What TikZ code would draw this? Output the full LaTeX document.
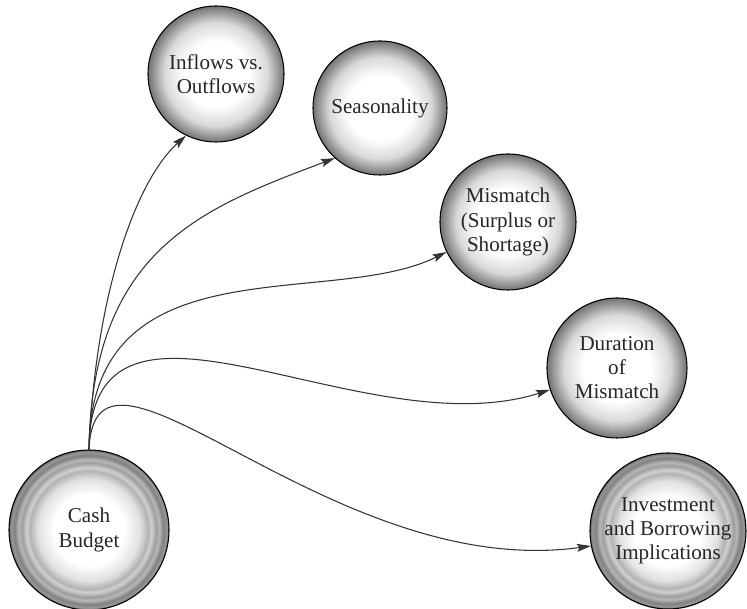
\documentclass[tikz,border=0pt]{standalone}
\usepackage{fontspec}
\setmainfont{Liberation Serif}
\usetikzlibrary{arrows.meta}

\pgfdeclareradialshading{plainball}{\pgfpoint{0bp}{0bp}}{%
  color(0bp)=(white); color(12bp)=(white); color(19bp)=(black!15);
  color(25bp)=(black!55); color(50bp)=(black!55)}
\pgfdeclareradialshading{ringball}{\pgfpoint{0bp}{0bp}}{%
  color(0bp)=(white); color(11bp)=(white); color(16bp)=(black!12);
  color(18.5bp)=(black!30); color(19.5bp)=(black!18); color(21bp)=(black!38);
  color(22bp)=(black!28); color(23.3bp)=(black!50); color(24.3bp)=(black!40);
  color(25bp)=(black!60); color(50bp)=(black!60)}

\begin{document}
\begin{tikzpicture}
  [every node/.style={circle,draw=black,line width=0.6pt,inner sep=0pt,shade,
     align=center,text=black!85,font=\fontsize{12}{13.7}\selectfont},
   topic/.style={shading=plainball},
   hub/.style={shading=ringball},
   link/.style={draw=black!80,line width=0.6pt,
     -{Stealth[length=2.8mm,width=1.6mm,inset=0.5mm]}}]
  \useasboundingbox (0,0) rectangle (14.94,12.18);

  \node[hub,minimum size=3.2cm] (cash) at (1.78,1.58) {Cash\\Budget};
  \node[topic,minimum size=2.72cm] (inflows) at (4.32,10.70) {Inflows vs.\\Outflows};
  \node[topic,minimum size=2.68cm] (season) at (7.60,10.02) {Seasonality};
  \node[topic,minimum size=2.72cm] (mismatch) at (10.16,7.74) {Mismatch\\(Surplus or\\Shortage)};
  \node[topic,minimum size=2.8cm] (duration) at (12.34,4.82) {Duration\\of\\Mismatch};
  \node[hub,minimum size=3.12cm] (invest) at (13.36,1.56) {Investment\\and Borrowing\\Implications};

  \foreach \to/\ang/\ax/\ay/\bx/\by in {inflows/244/0.12/3.0/-1.04/-0.94,
      season/228/0.06/4.0/-2.66/-1.0, mismatch/206/0.02/4.2/-2.34/-1.16,
      duration/198/0.02/4.0/-3.78/-1.2, invest/191/0.12/3.0/-5.24/-0.72}
    \draw[link] (cash.north) .. controls +(\ax,\ay) and +(\bx,\by) .. (\to.\ang);

\end{tikzpicture}
\end{document}
